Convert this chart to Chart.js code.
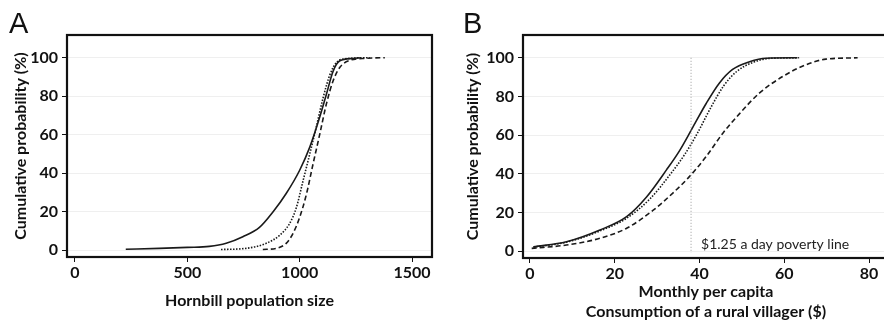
<!DOCTYPE html>
<html>
<head>
<meta charset="utf-8">
<script src="https://cdn.jsdelivr.net/npm/chart.js@4.4.1/dist/chart.umd.min.js"></script>
<style>
  html, body { margin: 0; padding: 0; background: #fff; overflow: hidden; }
  body { width: 884px; height: 324px; position: relative; }
  .wrap { position: absolute; top: 0; height: 324px; }
  .letter { position: absolute; font-family: "Liberation Sans", Arial, sans-serif; font-size: 29px; line-height: 29px; color: #111; }
</style>
</head>
<body>
<div class="wrap" style="left:0;width:442px"><canvas id="chartA" width="442" height="324"></canvas></div>
<div class="wrap" style="left:442px;width:460px"><canvas id="chartB" width="460" height="324"></canvas></div>
<div class="letter" style="left:9px;top:9px">A</div>
<div class="letter" style="left:463px;top:9px">B</div>
<script>
// Panel A - hornbill population size
const popTicks = [0, 500, 1000, 1500];
const popSolidX = [226, 375, 500, 598, 673, 747, 821, 881, 940, 1000, 1045, 1089, 1119, 1149, 1179, 1237, 1268];
const popSolidY = [0.4, 0.9, 1.4, 1.9, 3.5, 6.9, 11.8, 19.8, 29.4, 41.5, 53.5, 69, 81, 93, 98.4, 99.6, 100];
const popDotX = [650, 762, 851, 911, 955, 985, 1015, 1045, 1074, 1104, 1134, 1164, 1208, 1312];
const popDotY = [0.3, 0.9, 3.5, 7.7, 13.8, 22, 36, 50, 64, 79, 91, 97.5, 99.5, 100];
const popDashX = [836, 896, 940, 970, 1000, 1030, 1060, 1089, 1119, 1149, 1179, 1223, 1298, 1379];
const popDashY = [0.3, 0.9, 3.5, 8.6, 17, 29, 45, 60, 76, 88, 95, 98.6, 99.7, 100];

// Panel B - monthly consumption ($)
const conTicks = [0, 20, 40, 60, 80];
const conSolidX = [0.8, 8.6, 16.5, 22.8, 27.5, 32.2, 35.3, 38.4, 41.6, 44.7, 47.8, 51.8, 55.7, 63.1];
const conSolidY = [2.2, 4.8, 10.9, 17.8, 28, 42, 52, 64, 76.5, 87, 94, 98, 99.8, 100];
const conDotX = [0.8, 8.6, 16.5, 22.8, 28.3, 33.2, 36.5, 39.5, 42.6, 45.7, 48.8, 52.6, 56.5, 63.5];
const conDotY = [2.0, 4.6, 10.4, 17.0, 27, 40, 50, 61, 74, 85.5, 93, 97.6, 99.7, 100];
const conDashX = [0.4, 8.6, 16.5, 22.8, 29, 33.7, 37.6, 41.6, 45.5, 49.4, 54.1, 59.6, 65.1, 69.8, 77.3];
const conDashY = [1.4, 3.1, 6.6, 11.8, 21, 30, 38.5, 49, 61, 71, 81.7, 90.3, 96.4, 99.3, 100];
const povertyX = [38, 38];
const povertyY = [100, -1];
const povertyLabel = '$1.25 a day poverty line';

const yTicks = [0, 20, 40, 60, 80, 100];

function zip(xs, ys) {
  return xs.map((x, i) => ({ x: x, y: ys[i] }));
}

const tickFont = { family: 'Lato', size: 16, weight: 'bold' };
const ink = '#1a1a1a';

function lineSet(xs, ys, dash) {
  return {
    data: zip(xs, ys),
    borderColor: ink,
    borderWidth: 1.6,
    borderDash: dash,
    pointRadius: 0,
    fill: false,
    cubicInterpolationMode: 'monotone'
  };
}

// thick black box around the plot area
const boxFrame = {
  id: 'boxFrame',
  afterDatasetsDraw(chart) {
    const a = chart.chartArea;
    const c = chart.ctx;
    c.save();
    c.setLineDash([]);
    c.strokeStyle = '#111';
    c.lineWidth = 2.2;
    c.strokeRect(a.left, a.top, a.right - a.left, a.bottom - a.top);
    c.restore();
  }
};

function makeOptions(xmin, xmax, xTicks, xTitle, yAxisWidth, xAxisHeight, padRight, xTitleBottom, yTitleLeft) {
  return {
    responsive: false,
    animation: false,
    layout: { padding: { top: 35, right: padRight, left: 0, bottom: 0 } },
    plugins: { legend: { display: false }, tooltip: { enabled: false } },
    scales: {
      x: {
        type: 'linear',
        min: xmin,
        max: xmax,
        afterBuildTicks: s => { s.ticks = xTicks.map(v => ({ value: v })); },
        afterFit: s => { s.height = xAxisHeight; },
        grid: { drawOnChartArea: false, tickLength: 5, tickColor: '#111' },
        border: { display: false },
        ticks: { font: tickFont, color: '#111', padding: 1, maxRotation: 0, callback: v => String(v) },
        title: { display: true, text: xTitle, font: tickFont, color: '#111', padding: { top: 4, bottom: xTitleBottom } }
      },
      y: {
        type: 'linear',
        min: -3.6,
        max: 111.8,
        afterBuildTicks: s => { s.ticks = yTicks.map(v => ({ value: v })); },
        afterFit: s => { s.width = yAxisWidth; },
        grid: { color: '#efefef', tickLength: 5, tickColor: '#111' },
        border: { display: false },
        ticks: { font: tickFont, color: '#111', padding: 4 },
        title: { display: true, text: 'Cumulative probability (%)', font: tickFont, color: '#111', padding: { top: yTitleLeft, bottom: 2 } }
      }
    }
  };
}

new Chart(document.getElementById('chartA'), {
  type: 'line',
  data: {
    datasets: [
      lineSet(popSolidX, popSolidY, []),
      lineSet(popDotX, popDotY, [1.5, 1.5]),
      lineSet(popDashX, popDashY, [5, 3])
    ]
  },
  options: makeOptions(-35.6, 1589, popTicks, 'Hornbill population size', 67, 67, 10, 14, 11),
  plugins: [boxFrame]
});

const povertyText = {
  id: 'povertyText',
  afterDatasetsDraw(chart) {
    const c = chart.ctx;
    const xs = chart.scales.x, ys = chart.scales.y;
    c.save();
    c.font = '14px Lato';
    c.fillStyle = '#222';
    c.textBaseline = 'middle';
    c.fillText(povertyLabel, xs.getPixelForValue(povertyX[0]) + 10, ys.getPixelForValue(3.5));
    c.restore();
  }
};

new Chart(document.getElementById('chartB'), {
  type: 'line',
  data: {
    datasets: [
      {
        data: zip(povertyX, povertyY),
        borderColor: '#9a9a9a',
        borderWidth: 1,
        borderDash: [1, 2],
        pointRadius: 0,
        fill: false
      },
      lineSet(conSolidX, conSolidY, []),
      lineSet(conDotX, conDotY, [1.5, 1.5]),
      lineSet(conDashX, conDashY, [5, 3])
    ]
  },
  options: makeOptions(-1.65, 84.7, conTicks, ['Monthly per capita', 'Consumption of a rural villager ($)'], 81, 66, 13, 3, 21),
  plugins: [boxFrame, povertyText]
});
</script>
</body>
</html>
